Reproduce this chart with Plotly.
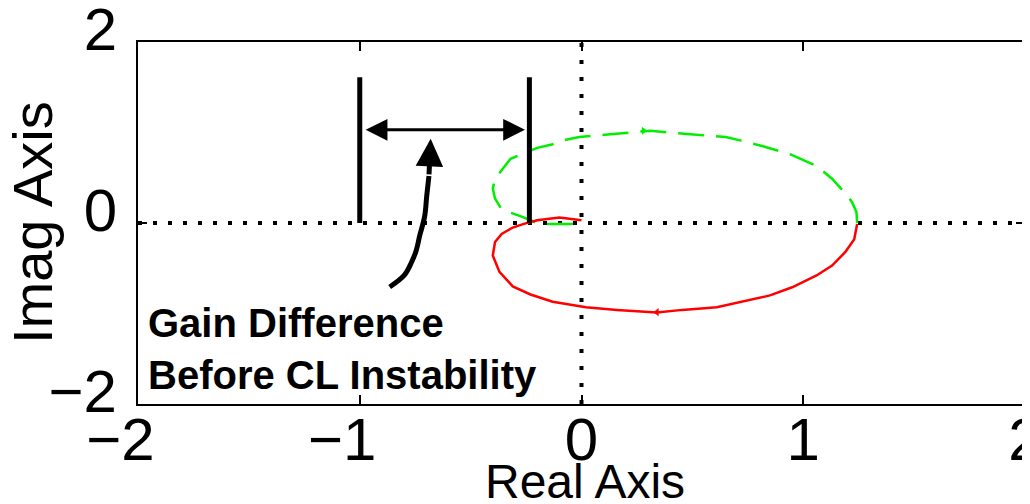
import plotly.graph_objects as go

# ---- data ----
# positive-frequency branch (red, solid)
red_re = [1.243, 1.23, 1.19, 1.13, 1.06, 0.95, 0.85, 0.72, 0.61, 0.455, 0.34, 0.16, 0.02,
          -0.13, -0.23, -0.31, -0.37, -0.40, -0.39, -0.36, -0.31, -0.26, -0.20, -0.10, 0.0]
red_im = [-0.01, -0.18, -0.32, -0.47, -0.58, -0.71, -0.80, -0.87, -0.93, -0.96, -0.99, -0.96, -0.93,
          -0.87, -0.79, -0.70, -0.54, -0.36, -0.21, -0.12, -0.05, -0.01, 0.03, 0.06, 0.03]
# negative-frequency branch (green, dashed)
grn_re = [1.243, 1.24, 1.22, 1.20, 1.13, 1.06, 0.94, 0.83, 0.72, 0.65, 0.49, 0.31, 0.13,
          -0.01, -0.09, -0.13, -0.20, -0.27, -0.32, -0.39, -0.40, -0.39, -0.36, -0.27, -0.19, -0.05, 0.0]
grn_im = [0.0, 0.12, 0.23, 0.30, 0.49, 0.63, 0.76, 0.84, 0.91, 0.95, 0.98, 1.02, 0.98,
          0.95, 0.91, 0.87, 0.83, 0.76, 0.71, 0.49, 0.38, 0.27, 0.15, 0.07, -0.01, -0.01, 0.0]

# direction markers
red_dir = ([0.34], [-0.985])
grn_dir = ([0.28], [1.02])

# gain-margin bars
gm_x = [-1.0, -0.235]
gm_top = 1.61
gm_arrow_y = 1.03

# curved pointer
ptr_re = [-0.865, -0.80, -0.766, -0.745, -0.730, -0.707, -0.698, -0.688]
ptr_im = [-0.707, -0.58, -0.431, -0.30, -0.144, 0.077, 0.298, 0.52]
ptr_tip = (-0.680, 0.93)

x_ticks = [-2, -1, 0, 1, 2]
y_ticks = [-2, 0, 2]
note_lines = ["Gain Difference", "Before CL Instability"]

def tick_text(v):
    if v < 0:
        return "\u2212%d<span style='color:rgba(0,0,0,0)'>\u2212</span>" % abs(v)
    return "%d" % v

FONT = "Liberation Sans, Arial, sans-serif"

fig = go.Figure()

# dotted axes through origin
fig.add_shape(type="line", xref="paper", yref="y", x0=0, x1=1, y0=0, y1=0,
              line=dict(color="black", width=4, dash="4px,11px"), layer="below")
fig.add_shape(type="line", xref="x", yref="paper", x0=0, x1=0, y0=0, y1=1,
              line=dict(color="black", width=4, dash="4px,13px"), layer="below")

fig.add_trace(go.Scatter(x=grn_re, y=grn_im, mode="lines",
                         line=dict(color="#00ee00", width=2.5, dash="26px,12px"),
                         hoverinfo="skip"))
fig.add_trace(go.Scatter(x=red_re, y=red_im, mode="lines",
                         line=dict(color="#ff0000", width=2.5), hoverinfo="skip"))
fig.add_trace(go.Scatter(x=red_dir[0], y=red_dir[1], mode="markers",
                         marker=dict(symbol="triangle-left", size=7, color="#ff0000"),
                         hoverinfo="skip"))
fig.add_trace(go.Scatter(x=grn_dir[0], y=grn_dir[1], mode="markers",
                         marker=dict(symbol="triangle-right", size=7, color="#00ee00"),
                         hoverinfo="skip"))

for gx in gm_x:
    fig.add_trace(go.Scatter(x=[gx, gx], y=[0, gm_top], mode="lines",
                             line=dict(color="black", width=5), hoverinfo="skip"))

fig.add_trace(go.Scatter(x=ptr_re, y=ptr_im, mode="lines",
                         line=dict(color="black", width=5, shape="spline"),
                         hoverinfo="skip"))

# double-headed arrow between the bars
fig.add_annotation(x=gm_x[1] - 0.02, y=gm_arrow_y, ax=gm_x[0] + 0.02, ay=gm_arrow_y,
                   xref="x", yref="y", axref="x", ayref="y", text="",
                   showarrow=True, arrowhead=2, startarrowhead=2, arrowside="end+start",
                   arrowwidth=3, arrowsize=1.45, startarrowsize=1.45,
                   arrowcolor="black", standoff=0, startstandoff=0)
# head of the curved pointer
fig.add_annotation(x=ptr_tip[0], y=ptr_tip[1], ax=ptr_re[-1], ay=ptr_im[-1],
                   xref="x", yref="y", axref="x", ayref="y", text="",
                   showarrow=True, arrowhead=2, arrowwidth=5, arrowsize=1.1,
                   arrowcolor="black", standoff=0)

fig.add_annotation(x=-1.965, y=-0.84, xref="x", yref="y", xanchor="left", yanchor="top",
                   align="left", showarrow=False,
                   text="<b>" + "<br>".join(note_lines) + "</b>",
                   font=dict(family=FONT, size=40, color="black"))

# axis titles
fig.add_annotation(x=-0.1195, y=0.5, xref="paper", yref="paper", textangle=-90,
                   xanchor="center", yanchor="middle", showarrow=False,
                   text="Imag Axis", font=dict(family=FONT, size=56, color="black"))
fig.add_annotation(x=0.504, y=-0.135, xref="paper", yref="paper",
                   xanchor="center", yanchor="top", showarrow=False,
                   text="Real Axis", font=dict(family=FONT, size=48, color="black"))

axis_common = dict(showgrid=False, zeroline=False, showline=True, mirror="ticks",
                   linecolor="black", linewidth=2, ticks="inside", ticklen=9,
                   tickwidth=2, tickcolor="black", ticklabeloverflow="allow",
                   automargin=False,
                   tickfont=dict(family=FONT, size=60, color="black"))

fig.update_xaxes(range=[-2, 2], tickvals=x_ticks, ticktext=[tick_text(v) for v in x_ticks],
                 ticklabelstandoff=-18, **axis_common)
fig.update_yaxes(range=[-2, 2], tickvals=y_ticks, ticktext=["\u22122", "0", "2"],
                 ticklabelstandoff=7, ticklabelshift=-13, **axis_common)

# page body adds an 8px offset, so the figure is sized to fill the window exactly
fig.update_layout(width=1022, height=496, margin=dict(l=130, r=5, t=34, b=100),
                  plot_bgcolor="white", paper_bgcolor="white", showlegend=False,
                  font=dict(family=FONT))

fig.write_html("out.html")
